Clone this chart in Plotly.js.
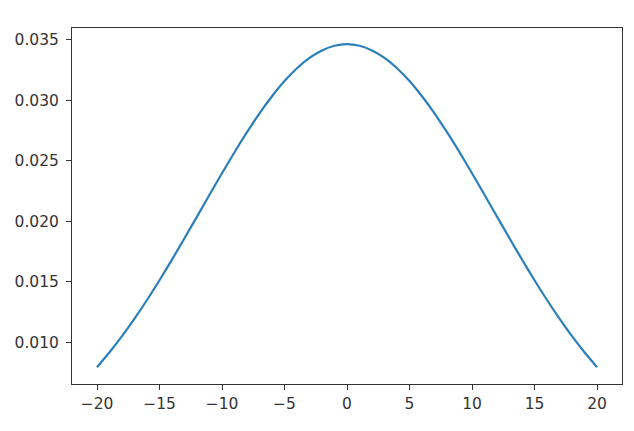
<!DOCTYPE html>
<html>
<head>
<meta charset="utf-8">
<script src="https://cdn.plot.ly/plotly-3.0.1.min.js"></script>
<style>
  html, body { margin: 0; padding: 0; background: #fff; }
  #chart { width: 634px; height: 431px; }
</style>
</head>
<body>
<div id="chart"></div>
<script>
// values, one per unit of x
const xValues = [
  -20, -19, -18, -17, -16, -15, -14, -13, -12, -11, -10,
  -9, -8, -7, -6, -5, -4, -3, -2, -1, 0,
  1, 2, 3, 4, 5, 6, 7, 8, 9, 10,
  11, 12, 13, 14, 15, 16, 17, 18, 19, 20,
];
const density = [
  0.00795, 0.00918, 0.01051, 0.01196, 0.01350, 0.01513, 0.01684, 0.01860, 0.02039, 0.02219, 0.02397,
  0.02571, 0.02736, 0.02892, 0.03033, 0.03159, 0.03265, 0.03350, 0.03412, 0.03450, 0.03463,
  0.03450, 0.03412, 0.03350, 0.03265, 0.03159, 0.03033, 0.02892, 0.02736, 0.02571, 0.02397,
  0.02219, 0.02039, 0.01860, 0.01684, 0.01513, 0.01350, 0.01196, 0.01051, 0.00918, 0.00795,
];
const xTicks = [-20, -15, -10, -5, 0, 5, 10, 15, 20];
const yTicks = [0.010, 0.015, 0.020, 0.025, 0.030, 0.035];

const axisCommon = {
  showgrid: false,
  zeroline: false,
  showline: true,
  mirror: true,
  linecolor: "#333",
  linewidth: 1,
  ticks: "outside",
  ticklen: 5,
  tickwidth: 1,
  tickcolor: "#333",
  tickfont: { family: "DejaVu Sans", size: 15.5, color: "#333" },
};

const curve = {
  x: xValues,
  y: density,
  type: "scatter",
  mode: "lines",
  line: { color: "#2b7fbb", width: 2.2, shape: "spline", smoothing: 0.6 },
  hoverinfo: "skip",
};

const layout = {
  width: 634,
  height: 431,
  margin: { l: 72, r: 12, t: 28, b: 47 },
  paper_bgcolor: "#fff",
  plot_bgcolor: "#fff",
  showlegend: false,
  xaxis: Object.assign({}, axisCommon, {
    range: [-22, 22],
    tickmode: "array",
    tickvals: xTicks,
    ticklabelstandoff: 0,
  }),
  yaxis: Object.assign({}, axisCommon, {
    range: [0.00656, 0.03597],
    tickmode: "array",
    tickvals: yTicks,
    tickformat: ".3f",
    ticklabelstandoff: 4,
  }),
};

Plotly.newPlot("chart", [curve], layout, { displayModeBar: false, staticPlot: true });
</script>
</body>
</html>
